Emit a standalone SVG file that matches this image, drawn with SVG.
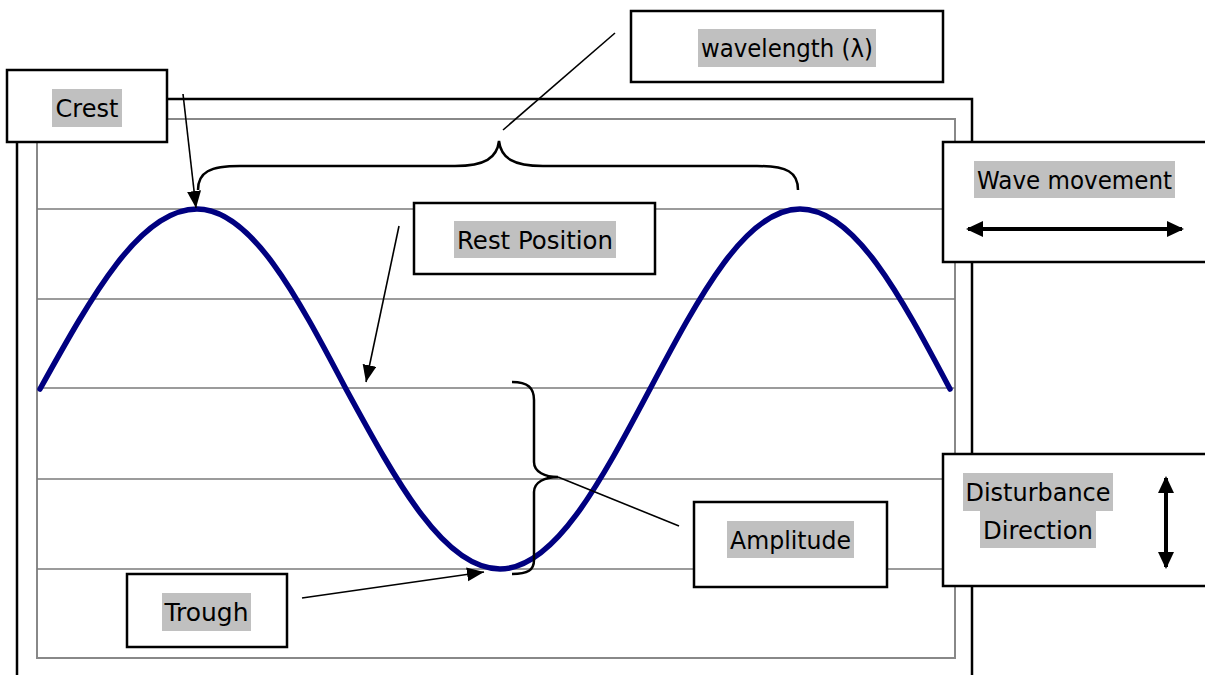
<svg xmlns="http://www.w3.org/2000/svg" width="1205" height="675" viewBox="0 0 1205 675">
<style>
.box{fill:#fff;stroke:#000;stroke-width:2.5}
.hl{fill:#c0c0c0}
.t{font-family:"DejaVu Sans","Liberation Sans",sans-serif;font-size:24px;fill:#000;text-anchor:middle}
.grid{stroke:#7a7a7a;stroke-width:1.5;fill:none}
.lead{stroke:#000;stroke-width:1.6;fill:none}
.brace{stroke:#000;stroke-width:2.5;fill:none}
.thick{stroke:#000;stroke-width:4;fill:none}
</style>
<defs>
<marker id="ah" markerUnits="userSpaceOnUse" markerWidth="19" markerHeight="16" refX="17" refY="7" orient="auto">
<path d="M0,0 L17,7 L0,14 Z" fill="#000"/>
</marker>
<marker id="bh" markerUnits="userSpaceOnUse" markerWidth="19" markerHeight="18" refX="15" refY="8" orient="auto-start-reverse">
<path d="M0,0 L17,8 L0,16 Z" fill="#000"/>
</marker>
</defs>
<rect width="1205" height="675" fill="#fff"/>
<g id="frame">
<rect x="17" y="99" width="955" height="620" fill="none" stroke="#000" stroke-width="2.5"/>
<rect x="37" y="119" width="918" height="539" fill="none" stroke="#888" stroke-width="2"/>
<line class="grid" x1="37" y1="209" x2="955" y2="209"/>
<line class="grid" x1="37" y1="299" x2="955" y2="299"/>
<line class="grid" x1="37" y1="388" x2="955" y2="388"/>
<line class="grid" x1="37" y1="479" x2="955" y2="479"/>
<line class="grid" x1="37" y1="569" x2="955" y2="569"/>
</g>
<g id="wave">
<path d="M40,389 C92.5,294.5 140.2,209 197,209 C250.9,209 296.2,294.5 346,389 C397.5,483.5 444.3,569 500,569 C554.2,569 599.9,483.5 650,389 C700.1,294.5 745.8,209 800,209 C854.2,209 899.9,294.5 950,389" fill="none" stroke="#000080" stroke-width="5.5" stroke-linecap="round" stroke-linejoin="round"/>
</g>
<g id="crest">
<rect class="box" x="7" y="70" width="160" height="72"/>
<rect class="hl" x="52" y="89" width="70" height="38"/>
<text class="t" x="87" y="117">Crest</text>
</g>
<g id="wavelength">
<rect class="box" x="631" y="11" width="312" height="71"/>
<rect class="hl" x="698" y="29" width="178" height="38"/>
<text class="t" x="787" y="57" textLength="172" lengthAdjust="spacingAndGlyphs">wavelength (λ)</text>
</g>
<g id="rest-position">
<rect class="box" x="414" y="203" width="241" height="71"/>
<rect class="hl" x="454" y="221" width="162" height="37"/>
<text class="t" x="535" y="249" textLength="156" lengthAdjust="spacingAndGlyphs">Rest Position</text>
</g>
<g id="wave-movement">
<rect class="box" x="943" y="142" width="275" height="120"/>
<rect class="hl" x="974" y="161" width="201" height="37"/>
<text class="t" x="1074.5" y="189" textLength="195" lengthAdjust="spacingAndGlyphs">Wave movement</text>
<line class="thick" x1="968" y1="229" x2="1182" y2="229" marker-start="url(#bh)" marker-end="url(#bh)"/>
</g>
<g id="disturbance-direction">
<rect class="box" x="943" y="454" width="275" height="132"/>
<rect class="hl" x="963" y="473" width="150" height="38"/>
<rect class="hl" x="980" y="511" width="116" height="37"/>
<text class="t" x="1038" y="501" textLength="145" lengthAdjust="spacingAndGlyphs">Disturbance</text>
<text class="t" x="1038" y="539" textLength="110" lengthAdjust="spacingAndGlyphs">Direction</text>
<line class="thick" x1="1166" y1="478" x2="1166" y2="567" marker-start="url(#bh)" marker-end="url(#bh)"/>
</g>
<g id="amplitude">
<rect class="box" x="694" y="502" width="193" height="85"/>
<rect class="hl" x="727" y="521" width="127" height="37"/>
<text class="t" x="790.5" y="549" textLength="121" lengthAdjust="spacingAndGlyphs">Amplitude</text>
</g>
<g id="trough">
<rect class="box" x="127" y="574" width="160" height="73"/>
<rect class="hl" x="162" y="593" width="89" height="38"/>
<text class="t" x="206.5" y="621" textLength="84" lengthAdjust="spacingAndGlyphs">Trough</text>
</g>
<g id="connectors">
<path class="brace" d="M198,190 C198,172 210,166 240,166 L455,166 C485,166 497,158 499,141 C501,158 513,166 543,166 L757,166 C787,166 798,172 798,190"/>
<path class="brace" d="M512,382 C528,382 534,388 534,400 L534,462 C534,472 545,477 558,477 C545,477 534,482 534,492 L534,560 C534,570 528,574 512,574"/>
<line class="lead" x1="183" y1="94" x2="196" y2="208" marker-end="url(#ah)"/>
<line class="lead" x1="615" y1="33" x2="503" y2="130"/>
<line class="lead" x1="399" y1="226" x2="366" y2="382" marker-end="url(#ah)"/>
<line class="lead" x1="558" y1="477" x2="679" y2="526"/>
<line class="lead" x1="302" y1="598" x2="484" y2="572" marker-end="url(#ah)"/>
</g>
</svg>
